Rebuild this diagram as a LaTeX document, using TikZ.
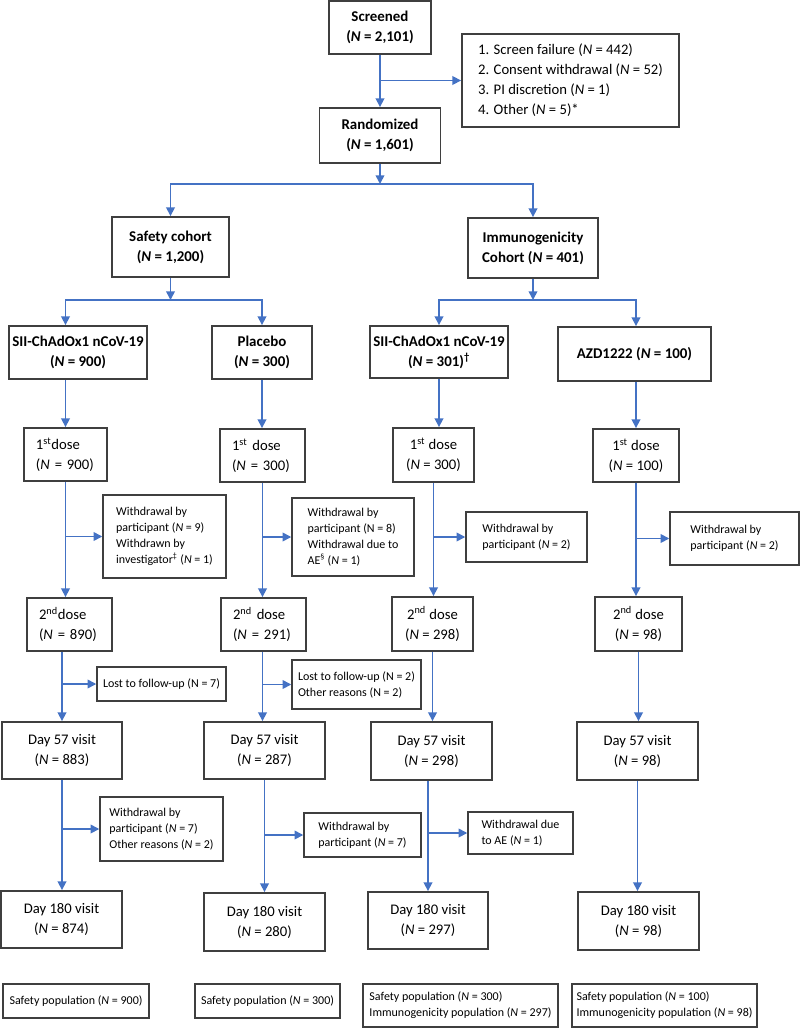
\documentclass[tikz,border=0pt]{standalone}
\usepackage{fontspec}
\setmainfont{Carlito}
\usetikzlibrary{arrows.meta,positioning,calc}
\definecolor{flowblue}{HTML}{4472C4}
\definecolor{boxgray}{HTML}{3F3F3F}

\begin{document}
\begin{tikzpicture}[
  x=0.75pt, y=-0.75pt,
  font=\fontsize{11}{15}\selectfont,
  box/.style={draw=boxgray, line width=1.4pt, align=center, inner sep=1pt},
  head/.style={box, font=\fontsize{11.2}{15}\selectfont\bfseries},
  lbox/.style={box, align=left, inner xsep=9pt},
  side/.style={draw=boxgray, line width=1.1pt, align=left, inner sep=1pt, font=\fontsize{9}{12}\selectfont},
  arrow/.style={-{Triangle[length=6.5pt,width=6.5pt]}, flowblue, line width=1.2pt}
]
\useasboundingbox (0,0) rectangle (800,1028);

% screening and randomisation
\node[head, minimum width=76.5pt, minimum height=39.75pt] (scr) at (380,27.5) {Screened\\(\textit{N} = 2,101)};
\node[box, align=left, minimum width=162.75pt, minimum height=69.75pt] (excl) at (570.5,80.5) {1. Screen failure (\textit{N} = 442)\\2. Consent withdrawal (\textit{N} = 52)\\3. PI discretion (\textit{N} = 1)\\4. Other (\textit{N} = 5)*};
\node[head, minimum width=90.75pt, minimum height=41.25pt] (rand) at (380,135.5) {Randomized\\(\textit{N} = 1,601)};

% cohorts
\node[head, minimum width=87.75pt, minimum height=45pt] (safe) at (170.5,247) {Safety cohort\\(\textit{N} = 1,200)};
\node[head, minimum width=97.5pt, minimum height=45pt] (immu) at (533,248) {Immunogenicity\\Cohort (\textit{N} = 401)};

% arms
\node[head, minimum width=103.5pt, minimum height=39.75pt] (sii1) at (78,352.5) {SII-ChAdOx1 nCoV-19\\(\textit{N} = 900)};
\node[head, minimum width=75pt, minimum height=39.75pt] (plac) at (262,352.5) {Placebo\\(\textit{N} = 300)};
\node[head, minimum width=103.5pt, minimum height=39pt] (sii2) at (439,352) {SII-ChAdOx1 nCoV-19\\(\textit{N} = 301)\textsuperscript{\textdagger}};
\node[head, minimum width=114.75pt, minimum height=40.5pt] (azd) at (634.5,354) {AZD1222 (\textit{N} = 100)};

% first dose
\node[lbox, text width=44.25pt, minimum height=39.75pt] (d1a) at (65.5,454.5) {1\textsuperscript{st}dose\\(\textit{N} = 900)};
\node[lbox, text width=45.75pt, minimum height=39.75pt] (d1b) at (262.5,455.5) {1\textsuperscript{st} dose\\ (\textit{N} = 300)};
\node[box, minimum width=60.75pt, minimum height=40.5pt] (d1c) at (433.5,455) {1\textsuperscript{st} dose\\(\textit{N} = 300)};
\node[box, minimum width=64.5pt, minimum height=39.75pt] (d1d) at (636,455.5) {1\textsuperscript{st} dose\\(\textit{N} = 100)};

\node[side, minimum width=92.25pt, minimum height=62.25pt] (wa1) at (164.5,536.5) {Withdrawal by\\participant (\textit{N} = 9)\\Withdrawn by\\investigator\textsuperscript{\textdaggerdbl} (\textit{N} = 1)};
\node[side, minimum width=91.5pt, minimum height=58.5pt] (wb1) at (353,537) {Withdrawal by\\participant (N = 8)\\Withdrawal due to\\AE\textsuperscript{\textsection} (\textit{N} = 1)};
\node[side, minimum width=90.75pt, minimum height=37.5pt] (wc1) at (526.5,537) {Withdrawal by\\participant (\textit{N} = 2)};
\node[side, minimum width=96.75pt, minimum height=39.75pt] (wd1) at (734.5,538.5) {Withdrawal by\\participant (\textit{N} = 2)};

% second dose
\node[lbox, text width=45.75pt, minimum height=39.75pt] (d2a) at (69.5,624.5) {2\textsuperscript{nd}dose\\(\textit{N} = 890)};
\node[lbox, text width=45.75pt, minimum height=39.75pt] (d2b) at (263.5,624.5) {2\textsuperscript{nd} dose\\(\textit{N} = 291)};
\node[box, minimum width=60.75pt, minimum height=40.5pt] (d2c) at (432.5,624) {2\textsuperscript{nd} dose\\(\textit{N} = 298)};
\node[box, minimum width=65.25pt, minimum height=40.5pt] (d2d) at (638.5,624) {2\textsuperscript{nd} dose\\(\textit{N} = 98)};

\node[side, minimum width=96.75pt, minimum height=25.5pt] (la) at (161.5,684) {Lost to follow-up (N = 7)};
\node[side, minimum width=96.75pt, minimum height=36.75pt] (lb) at (356.5,684.5) {Lost to follow-up (N = 2)\\Other reasons (N = 2)};

% day 57
\node[box, minimum width=90pt, minimum height=42.75pt] (v57a) at (62,750.5) {Day 57 visit\\(\textit{N} = 883)};
\node[box, minimum width=90.75pt, minimum height=42.75pt] (v57b) at (264.5,750.5) {Day 57 visit\\(\textit{N} = 287)};
\node[box, minimum width=90.75pt, minimum height=43.5pt] (v57c) at (431.5,751) {Day 57 visit\\(\textit{N} = 298)};
\node[box, minimum width=90.75pt, minimum height=43.5pt] (v57d) at (637.5,751) {Day 57 visit\\(\textit{N} = 98)};

\node[side, minimum width=92.25pt, minimum height=48pt] (xa) at (161.5,829) {Withdrawal by\\participant (\textit{N} = 7)\\Other reasons (\textit{N} = 2)};
\node[side, minimum width=87.75pt, minimum height=33pt] (xb) at (362.5,835) {Withdrawal by\\participant (\textit{N} = 7)};
\node[side, minimum width=78.75pt, minimum height=31.5pt] (xc) at (520.5,833) {Withdrawal due\\to AE (\textit{N} = 1)};

% day 180
\node[box, minimum width=90.75pt, minimum height=42.75pt] (v180a) at (61.5,919.5) {Day 180 visit\\(\textit{N} = 874)};
\node[box, minimum width=90.75pt, minimum height=43.5pt] (v180b) at (264.5,922) {Day 180 visit\\(\textit{N} = 280)};
\node[box, minimum width=90pt, minimum height=42.75pt] (v180c) at (428,920.5) {Day 180 visit\\(\textit{N} = 297)};
\node[box, minimum width=90.75pt, minimum height=43.5pt] (v180d) at (638.5,921) {Day 180 visit\\(\textit{N} = 98)};

% analysis populations
\node[side, align=center, minimum width=109.5pt, minimum height=25.5pt] (pa) at (76,1001) {Safety population (\textit{N} = 900)};
\node[side, align=center, minimum width=108.75pt, minimum height=25.5pt] (pb) at (267.5,1001) {Safety population (\textit{N} = 300)};
\node[side, minimum width=146.25pt, minimum height=32.25pt] (pc) at (460.5,1005.5) {Safety population (\textit{N} = 300)\\Immunogenicity population (\textit{N} = 297)};
\node[side, minimum width=138.75pt, minimum height=32.25pt] (pd) at (664.5,1005.5) {Safety population (\textit{N} = 100)\\Immunogenicity population (\textit{N} = 98)};

% connectors
\coordinate (j1) at (380,184);
\coordinate (j2) at (170.5,300);
\coordinate (j3) at (533,300);
\draw[arrow] (scr.south) -- (rand.north);
\draw[arrow] (scr.south |- excl.west) -- (excl.west);
\draw[arrow] (rand.south) -- (j1);
\draw[arrow] (j1) -| (safe.north);
\draw[arrow] (j1) -| (immu.north);
\draw[arrow] (safe.south) -- (j2);
\draw[arrow] (j2) -| (sii1.north -| d1a.north);
\draw[arrow] (j2) -| (plac.north);
\draw[arrow] (immu.south) -- (j3);
\draw[arrow] (j3) -| (sii2.north);
\draw[arrow] (j3) -| (azd.north -| d1d.north);

\draw[arrow] (sii1.south -| d1a.north) -- (d1a.north);
\draw[arrow] (plac.south) -- (plac.south |- d1b.north);
\draw[arrow] (sii2.south) -- (sii2.south |- d1c.north);
\draw[arrow] (azd.south -| d1d.north) -- (d1d.north);

\draw[arrow] (d1a.south) -- (d1a.south |- d2a.north);
\draw[arrow] (d1a.south |- wa1.west) -- (wa1.west);
\draw[arrow] (d1b.south) -- (d1b.south |- d2b.north);
\draw[arrow] (d1b.south |- wb1.west) -- (wb1.west);
\draw[arrow] (d1c.south) -- (d1c.south |- d2c.north);
\draw[arrow] (d1c.south |- wc1.west) -- (wc1.west);
\draw[arrow] (d1d.south) -- (d1d.south |- d2d.north);
\draw[arrow] (d1d.south |- wd1.west) -- (wd1.west);

\draw[arrow] (v57a.north |- d2a.south) -- (v57a.north);
\draw[arrow] (v57a.north |- la.west) -- (la.west);
\draw[arrow] (d1b.south |- d2b.south) -- (d1b.south |- v57b.north);
\draw[arrow] (d1b.south |- lb.west) -- (lb.west);
\draw[arrow] (d2c.south) -- (d2c.south |- v57c.north);
\draw[arrow] (d2d.south) -- (d2d.south |- v57d.north);

\draw[arrow] (v57a.south) -- (v57a.south |- v180a.north);
\draw[arrow] (v57a.south |- xa.west) -- (xa.west);
\draw[arrow] (v57b.south) -- (v57b.south |- v180b.north);
\draw[arrow] (v57b.south |- xb.west) -- (xb.west);
\draw[arrow] (v180c.north |- v57c.south) -- (v180c.north);
\draw[arrow] (v180c.north |- xc.west) -- (xc.west);
\draw[arrow] (v57d.south) -- (v57d.south |- v180d.north);
\end{tikzpicture}
\end{document}
